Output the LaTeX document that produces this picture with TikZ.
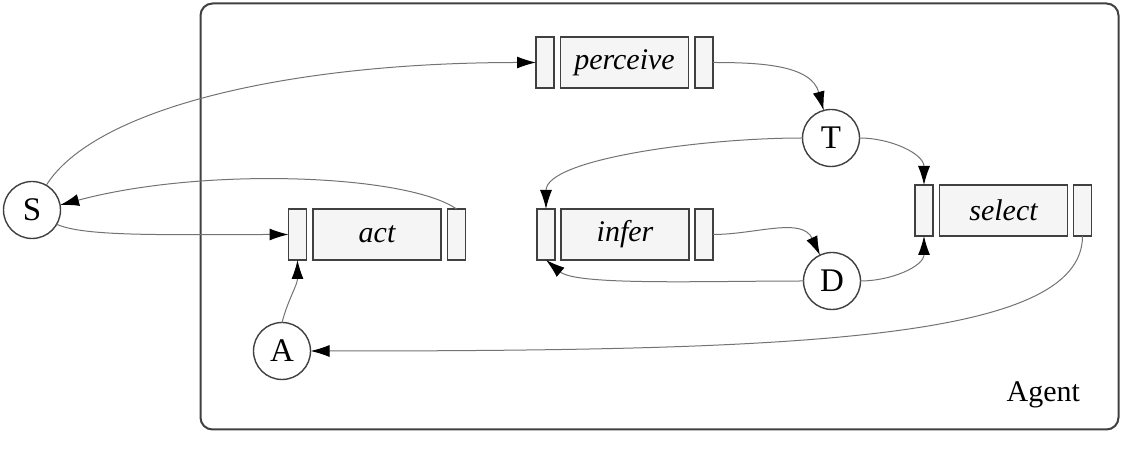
\documentclass[tikz,border=0pt]{standalone}
\usepackage{fontspec}
\setmainfont{Liberation Serif}
\usetikzlibrary{arrows.meta}
\begin{document}
\begin{tikzpicture}[x=0.5pt,y=-0.5pt,
  slot/.style={draw=black!75,line width=0.7pt,fill=black!4,minimum width=9pt,minimum height=25.5pt,inner sep=0pt,outer sep=0pt},
  mainbox/.style={draw=black!75,line width=0.7pt,fill=black!4,minimum width=64pt,minimum height=25.5pt,inner sep=0pt,outer sep=0pt,font=\fontsize{15}{18}\selectfont\itshape},
  state/.style={circle,draw=black!75,line width=0.7pt,fill=white,minimum size=28.5pt,inner sep=0pt,outer sep=0pt,font=\fontsize{16.5}{19}\selectfont},
  flow/.style={draw=black!55,line width=0.5pt,-{Latex[length=9.5pt,width=6pt,color=black]}}]
\useasboundingbox (0,0) rectangle (1128,453);
\node[draw=black!75,line width=1pt,rounded corners=6pt,minimum width=459pt,minimum height=213pt,inner sep=0pt] (agent) at (659.5,216.5) {};
\node[anchor=base east,font=\fontsize{15}{18}\selectfont] (agentlbl) at (1087,402) {Agent};
% perceive
\node[slot] (perL) at (545,62.5) {};
\node[mainbox] (perM) at (624.5,62.5) {perceive};
\node[slot] (perR) at (704,62.5) {};
% act
\node[slot] (actL) at (297.5,234.5) {};
\node[mainbox] (actM) at (377,234.5) {act};
\node[slot] (actR) at (456.5,234.5) {};
% infer
\node[slot] (infL) at (546,234.5) {};
\node[mainbox] (infM) at (625,234.5) {infer};
\node[slot] (infR) at (704,234.5) {};
% select
\node[slot] (selL) at (924,210.5) {};
\node[mainbox] (selM) at (1003.5,210.5) {select};
\node[slot] (selR) at (1082.5,210.5) {};
% states
\node[state] (S) at (32,210) {S};
\node[state] (T) at (831,138) {T};
\node[state] (D) at (832,281) {D};
\node[state] (A) at (282,351) {A};
% connectors
\draw[flow] (S.60) to[out=58,in=180,out distance=45pt,in distance=125pt] (perL.west);
\draw[flow] (actR.north) to[out=145,in=15,out distance=30pt,in distance=75pt] (S.10);
\draw[flow] (S.-30) to[out=-25,in=180,out distance=15pt,in distance=60pt] (actL.west);
\draw[flow] (A.north) to[out=75,in=-90] (actL.south);
\draw[flow] (perR.east) to[out=0,in=105] (T.105);
\draw[flow] (T.west) to[out=180,in=90,out distance=50pt,in distance=25pt] (infL.north);
\draw[flow] (T.east) to[out=0,in=90] (selL.north);
\draw[flow] (infR.east) to[out=0,in=115] (D.115);
\draw[flow] (D.west) to[out=180,in=-40,out distance=50pt,in distance=20pt] (infL.south);
\draw[flow] (D.east) to[out=0,in=-90] (selL.south);
\draw[flow] (selR.south) to[out=-90,in=0,out distance=52pt,in distance=245pt] (A.east);
\end{tikzpicture}
\end{document}
